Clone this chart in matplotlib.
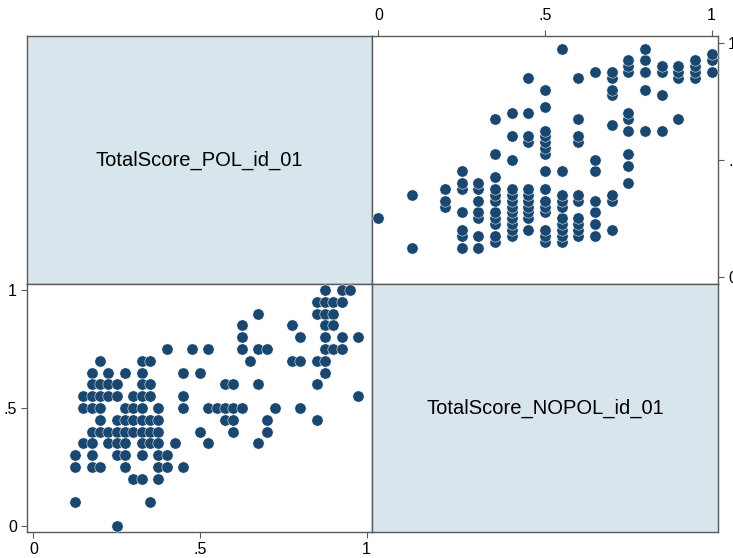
#!/usr/bin/env python3
"""Scatterplot matrix of the two total scores (Stata graph matrix look)."""

import matplotlib
matplotlib.use("Agg")
import matplotlib.pyplot as plt

plt.rcParams["font.family"] = ["Liberation Sans", "DejaVu Sans"]

# ---------- data ----------
var_names = ["TotalScore_POL_id_01", "TotalScore_NOPOL_id_01"]

pol = [
    0.875, 0.925, 0.95,
    0.85, 0.875, 0.9, 0.925,
    0.675, 0.85, 0.875, 0.9,
    0.625, 0.775, 0.875, 0.9,
    0.625, 0.8, 0.875, 0.925, 0.975,
    0.4, 0.475, 0.525, 0.625, 0.675, 0.7, 0.875, 0.9, 0.925,
    0.2, 0.325, 0.35, 0.65, 0.775, 0.8, 0.85, 0.875,
    0.175, 0.225, 0.275, 0.325, 0.45, 0.5, 0.875,
    0.175, 0.2, 0.225, 0.25, 0.325, 0.35, 0.575, 0.6, 0.675, 0.85,
    0.15, 0.175, 0.2, 0.225, 0.25, 0.3, 0.325, 0.35, 0.45, 0.975,
    0.15, 0.175, 0.2, 0.275, 0.3, 0.325, 0.375, 0.45, 0.525, 0.55, 0.575, 0.6, 0.625, 0.725, 0.8,
    0.2, 0.25, 0.275, 0.3, 0.325, 0.35, 0.375, 0.575, 0.6, 0.7, 0.85,
    0.175, 0.2, 0.225, 0.25, 0.275, 0.3, 0.325, 0.35, 0.375, 0.5, 0.6, 0.7,
    0.15, 0.175, 0.225, 0.25, 0.275, 0.325, 0.35, 0.375, 0.425, 0.525, 0.675,
    0.125, 0.175, 0.25, 0.275, 0.325, 0.375, 0.4,
    0.125, 0.175, 0.2, 0.275, 0.375, 0.4, 0.45,
    0.3, 0.325, 0.375,
    0.125, 0.35,
    0.25,
]

nopol = (
    [1.0] * 3 + [0.95] * 4 + [0.9] * 4 + [0.85] * 4 + [0.8] * 5
    + [0.75] * 9 + [0.7] * 8 + [0.65] * 7 + [0.6] * 10 + [0.55] * 10
    + [0.5] * 15 + [0.45] * 11 + [0.4] * 12 + [0.35] * 11 + [0.3] * 7
    + [0.25] * 7 + [0.2] * 3 + [0.1] * 2 + [0.0] * 1
)

tick_vals = [0, 0.5, 1]
tick_labels = ["0", ".5", "1"]

# ---------- style ----------
W, H = 733, 558
DOT = "#1a476f"
LABEL_BG = "#d9e5ec"
FRAME = "#5a5a5a"
TICK_FS = 11.5
PX = 0.72  # points per pixel at 100 dpi


def ax_at(fig, x0, y0, x1, y1):
    # pixel box (top-left origin) -> figure fraction axes
    return fig.add_axes([x0 / W, 1 - y1 / H, (x1 - x0) / W, (y1 - y0) / H])


def frame(ax):
    for sp in ax.spines.values():
        sp.set_color(FRAME)
        sp.set_linewidth(1.0)


def label_cell(ax, text):
    ax.set_facecolor(LABEL_BG)
    ax.set_xticks([])
    ax.set_yticks([])
    ax.text(0.5, 0.5, text, transform=ax.transAxes, ha="center", va="center",
            fontsize=14.5, color="black")
    frame(ax)


def scatter_cell(ax, x, y):
    ax.scatter(x, y, s=66, color=DOT, edgecolors="white", linewidths=0.35, zorder=3)
    ax.set_xticks(tick_vals)
    ax.set_xticklabels(tick_labels)
    ax.set_yticks(tick_vals)
    ax.set_yticklabels(tick_labels)
    ax.tick_params(direction="out", length=6 * PX, width=0.8, color=FRAME,
                   labelsize=TICK_FS, labelcolor="black")
    frame(ax)


fig = plt.figure(figsize=(W / 100, H / 100), dpi=100)
fig.patch.set_facecolor("white")

xl, xm, xr = 27, 372, 718
yt, ym, yb = 36, 284, 532

# top-left: label
label_cell(ax_at(fig, xl, yt, xm, ym), var_names[0])

# top-right: y = POL, x = NOPOL, axes on top and right
ax_tr = ax_at(fig, xm, yt, xr, ym)
scatter_cell(ax_tr, nopol, pol)
ax_tr.set_xlim(-0.019, 1.019)
ax_tr.set_ylim(-0.031, 1.029)
ax_tr.xaxis.tick_top()
ax_tr.yaxis.tick_right()
ax_tr.tick_params(axis="x", pad=7 * PX)
ax_tr.tick_params(axis="y", pad=4 * PX)

# bottom-left: y = NOPOL, x = POL, axes on bottom and left
ax_bl = ax_at(fig, xl, ym, xm, yb)
scatter_cell(ax_bl, pol, nopol)
ax_bl.set_xlim(-0.019, 1.016)
ax_bl.set_ylim(-0.025, 1.025)
ax_bl.tick_params(axis="x", pad=4.5 * PX)
ax_bl.tick_params(axis="y", pad=4 * PX)

# bottom-right: label
label_cell(ax_at(fig, xm, ym, xr, yb), var_names[1])

fig.savefig("out.png", dpi=100)
